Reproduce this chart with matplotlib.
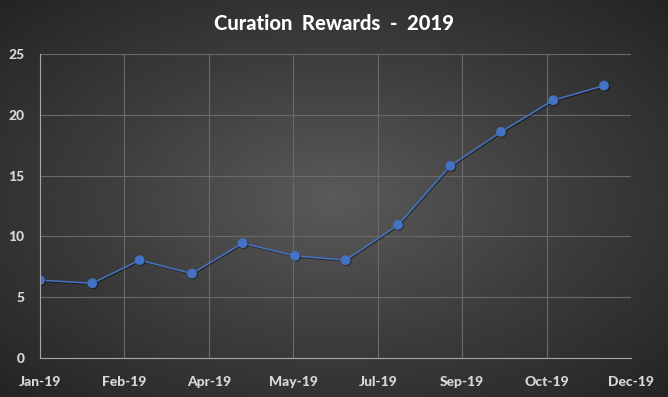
import numpy as np
import matplotlib
matplotlib.use("Agg")
import matplotlib.pyplot as plt
import matplotlib.dates as mdates
from matplotlib.colors import LinearSegmentedColormap
import matplotlib.patheffects as pe

months = np.array(['2019-01-01', '2019-02-01', '2019-03-01', '2019-04-01',
                   '2019-05-01', '2019-06-01', '2019-07-01', '2019-08-01',
                   '2019-09-01', '2019-10-01', '2019-11-01', '2019-12-01'],
                  dtype='datetime64[D]')
rewards = [6.4, 6.15, 8.05, 6.95, 9.45, 8.4, 8.05, 10.95, 15.8, 18.6, 21.2, 22.4]
y_ticks = [0, 5, 10, 15, 20, 25]

plt.rcParams['font.family'] = ['Lato', 'DejaVu Sans']

fig = plt.figure(figsize=(6.68, 3.97), dpi=100)

# radial gradient background
bg = fig.add_axes([0, 0, 1, 1])
bg.set_axis_off()
xx, yy = np.meshgrid(np.linspace(-1, 1, 668), np.linspace(-1, 1, 397))
r = np.sqrt(xx ** 2 + yy ** 2) / np.sqrt(2)
cmap = LinearSegmentedColormap.from_list('bg', ['#5a5a5a', '#3d3d3d', '#242424'])
bg.imshow(r, cmap=cmap, aspect='auto', extent=[0, 1, 0, 1], vmin=0, vmax=1)

ax = fig.add_axes([0.0599, 0.0982, 0.8847, 0.7658])
ax.patch.set_alpha(0)

start = np.datetime64('2019-01-01')
end = np.datetime64('2019-12-17')
ax.set_xlim(start, end)
ax.set_ylim(0, 25)
ax.set_xticks(np.arange(start, end + 1, 50))
ax.xaxis.set_major_formatter(mdates.DateFormatter('%b-%y'))
ax.set_yticks(y_ticks)

ax.grid(True, color='#6a6a6a', linewidth=0.8)
ax.set_axisbelow(True)
for s in ['top', 'right']:
    ax.spines[s].set_visible(False)
ax.spines['left'].set_color('#a6a6a6')
ax.spines['bottom'].set_color('#a6a6a6')

ax.tick_params(axis='both', length=0, colors='#d9d9d9', labelsize=10)
ax.tick_params(axis='x', pad=13)
ax.tick_params(axis='y', pad=11)
for lbl in ax.get_xticklabels() + ax.get_yticklabels():
    lbl.set_fontweight('black')

ax.plot(months, rewards, color='#4472c4', linewidth=1.1, marker='o',
        markersize=6, markerfacecolor='#4472c4', markeredgecolor='#4472c4',
        path_effects=[pe.SimpleLineShadow(offset=(0.8, -0.8), alpha=0.4), pe.Normal()])

fig.text(0.5, 0.94, 'Curation  Rewards  -  2019', ha='center', va='center',
         fontsize=14.5, fontweight='black', color='white')

fig.savefig('out.png', dpi=100)
